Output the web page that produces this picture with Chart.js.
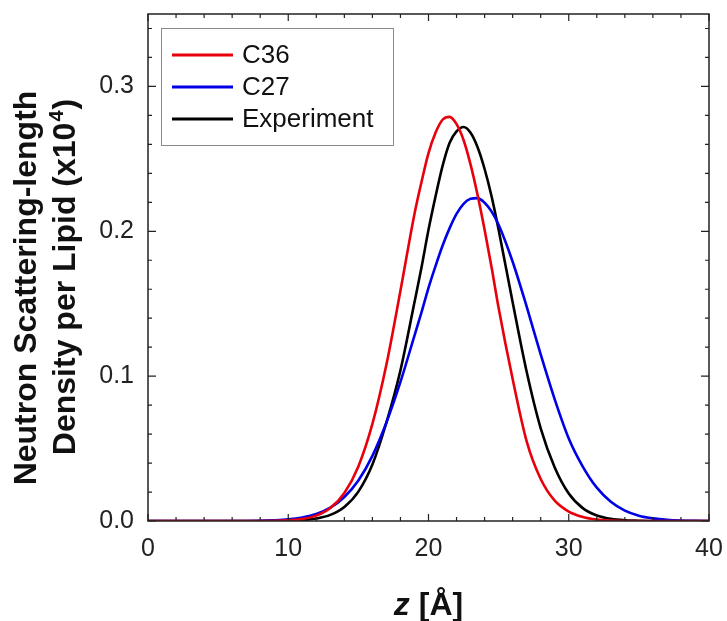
<!DOCTYPE html>
<html lang="en">
<head>
<meta charset="UTF-8">
<style>
body {
    margin: 0;
    background: #fff;
}
</style>
</head>
<body>
<canvas id="sldChart" width="727" height="621"></canvas>
<script src="https://cdn.jsdelivr.net/npm/chart.js"></script>
<script>
// z positions (Angstrom), finer steps around the peaks
const zValues = [0, 2, 4, 6, 8, 9, 10, 11, 12, 13, 14, 15, 16, 17, 18, 19, 19.5, 20, 20.5, 21, 21.5, 22, 22.5, 23, 23.5, 24, 24.5, 25, 26, 27, 28, 29, 30, 31, 32, 33, 34, 35, 36, 37, 38, 39, 40];

const c36 = [0, 0, 0, 0, 0, 0.0001, 0.0005, 0.0014, 0.0037, 0.0089, 0.0193, 0.0377, 0.067, 0.108, 0.159, 0.212, 0.234, 0.254, 0.268, 0.277, 0.279, 0.274, 0.263, 0.246, 0.225, 0.201, 0.175, 0.147, 0.098, 0.055, 0.029, 0.014, 0.0065, 0.0028, 0.001, 0.0003, 0, 0, 0, 0, 0, 0, 0];

const c27 = [0, 0, 0, 0, 0.0002, 0.0005, 0.0011, 0.0024, 0.0048, 0.0092, 0.0166, 0.028, 0.045, 0.068, 0.096, 0.128, 0.144, 0.161, 0.176, 0.190, 0.202, 0.212, 0.219, 0.2224, 0.2229, 0.2197, 0.2136, 0.2045, 0.179, 0.148, 0.115, 0.084, 0.057, 0.0376, 0.023, 0.0133, 0.0072, 0.0037, 0.0018, 0.0008, 0.0003, 0.0001, 0];

const experiment = [0, 0, 0, 0, 0, 0.0001, 0.0002, 0.0006, 0.0017, 0.0042, 0.0097, 0.0203, 0.039, 0.068, 0.104, 0.151, 0.175, 0.201, 0.224, 0.245, 0.261, 0.269, 0.272, 0.268, 0.258, 0.243, 0.224, 0.201, 0.151, 0.103, 0.064, 0.037, 0.019, 0.0089, 0.0038, 0.0015, 0.0005, 0.0002, 0, 0, 0, 0, 0];

const seriesNames = ['C36', 'C27', 'Experiment'];
const seriesColors = ['#e8000b', '#0000e6', '#000000'];

const fontFamily = '"Liberation Sans", Arial, Helvetica, sans-serif';

function toPoints(values) {
    return zValues.map((z, i) => ({ x: z, y: values[i] }));
}

// frame and inward tick marks on all four sides
const framePlugin = {
    id: 'frame',
    afterDatasetsDraw(chart) {
        const { ctx, chartArea: a, scales } = chart;
        const xs = scales.x, ys = scales.y;
        ctx.save();
        ctx.strokeStyle = '#222';
        ctx.lineWidth = 1.5;
        ctx.strokeRect(a.left, a.top, a.right - a.left, a.bottom - a.top);
        ctx.lineWidth = 1.2;
        ctx.beginPath();
        for (let v = 0; v <= 40; v += 2) {
            const px = xs.getPixelForValue(v);
            const len = v % 10 === 0 ? 7 : 4;
            ctx.moveTo(px, a.bottom); ctx.lineTo(px, a.bottom - len);
            ctx.moveTo(px, a.top); ctx.lineTo(px, a.top + len);
        }
        for (let k = 0; k <= 17; k++) {
            const py = ys.getPixelForValue(k * 0.02);
            const len = k % 5 === 0 ? 8 : 4;
            ctx.moveTo(a.left, py); ctx.lineTo(a.left + len, py);
            ctx.moveTo(a.right, py); ctx.lineTo(a.right - len, py);
        }
        ctx.stroke();
        ctx.restore();
    }
};

// boxed legend in the upper left of the plot
const legendPlugin = {
    id: 'boxLegend',
    afterDraw(chart) {
        const ctx = chart.ctx;
        ctx.save();
        ctx.strokeStyle = '#8a8a8a';
        ctx.lineWidth = 1;
        ctx.strokeRect(161.5, 28.5, 232, 117);
        ctx.font = '26px ' + fontFamily;
        ctx.textBaseline = 'middle';
        ctx.fillStyle = '#111';
        chart.data.datasets.forEach((ds, i) => {
            const y = 55 + i * 32;
            ctx.strokeStyle = ds.borderColor;
            ctx.lineWidth = 3;
            ctx.beginPath();
            ctx.moveTo(172, y);
            ctx.lineTo(233, y);
            ctx.stroke();
            ctx.fillText(ds.label, 242, y + 1);
        });
        ctx.restore();
    }
};

// axis titles: italic z on x, two-line rotated title with superscript on y
const titlePlugin = {
    id: 'axisTitles',
    afterDraw(chart) {
        const ctx = chart.ctx;
        ctx.save();
        ctx.fillStyle = '#111';
        ctx.textBaseline = 'alphabetic';
        ctx.textAlign = 'left';

        const italic = 'italic bold 32px ' + fontFamily;
        const bold = 'bold 32px ' + fontFamily;
        ctx.font = italic;
        const wz = ctx.measureText('z').width;
        ctx.font = bold;
        const wr = ctx.measureText(' [Å]').width;
        const cx = (chart.chartArea.left + chart.chartArea.right) / 2;
        let x0 = cx - (wz + wr) / 2;
        ctx.font = italic;
        ctx.fillText('z', x0, 615);
        ctx.font = bold;
        ctx.fillText(' [Å]', x0 + wz, 615);

        // line 1
        ctx.save();
        ctx.translate(36, 288);
        ctx.rotate(-Math.PI / 2);
        ctx.textAlign = 'center';
        ctx.font = bold;
        ctx.fillText('Neutron Scattering-length', 0, 0);
        ctx.restore();

        // line 2 with superscript 4
        const partA = 'Density per Lipid (x10';
        const partB = '4';
        const partC = ')';
        ctx.save();
        ctx.translate(75, 278);
        ctx.rotate(-Math.PI / 2);
        ctx.font = bold;
        const wa = ctx.measureText(partA).width;
        const wc = ctx.measureText(partC).width;
        ctx.font = 'bold 20px ' + fontFamily;
        const wb = ctx.measureText(partB).width;
        let start = -(wa + wb + wc) / 2;
        ctx.font = bold;
        ctx.fillText(partA, start, 0);
        ctx.font = 'bold 20px ' + fontFamily;
        ctx.fillText(partB, start + wa + 1, -12);
        ctx.font = bold;
        ctx.fillText(partC, start + wa + wb + 2, 0);
        ctx.restore();

        ctx.restore();
    }
};

const ctx = document.getElementById('sldChart').getContext('2d');
const sldChart = new Chart(ctx, {
    type: 'line',
    data: {
        datasets: [
            { label: seriesNames[0], data: toPoints(c36), borderColor: seriesColors[0] },
            { label: seriesNames[1], data: toPoints(c27), borderColor: seriesColors[1] },
            { label: seriesNames[2], data: toPoints(experiment), borderColor: seriesColors[2] }
        ].map(ds => Object.assign(ds, {
            borderWidth: 2.6,
            pointRadius: 0,
            fill: false,
            cubicInterpolationMode: 'monotone'
        }))
    },
    options: {
        responsive: false,
        animation: false,
        layout: {
            padding: { left: 0, right: 18, top: 0, bottom: 0 }
        },
        scales: {
            x: {
                type: 'linear',
                min: 0,
                max: 40,
                grid: { display: false, drawTicks: false },
                border: { display: false },
                ticks: {
                    stepSize: 10,
                    padding: 13,
                    color: '#222',
                    font: { family: fontFamily, size: 25 },
                    maxRotation: 0
                },
                afterFit(scale) {
                    scale.height = 100;
                    scale.paddingLeft = 0;
                    scale.paddingRight = 0;
                }
            },
            y: {
                type: 'linear',
                min: 0,
                max: 0.35,
                grid: { display: false, drawTicks: false },
                border: { display: false },
                ticks: {
                    stepSize: 0.1,
                    padding: 14,
                    color: '#222',
                    font: { family: fontFamily, size: 25 },
                    callback: (v) => v > 0.31 ? '' : v.toFixed(1)
                },
                afterFit(scale) {
                    scale.width = 148;
                    scale.paddingTop = 14;
                    scale.paddingBottom = 0;
                }
            }
        },
        plugins: {
            legend: { display: false },
            tooltip: { enabled: false }
        }
    },
    plugins: [framePlugin, legendPlugin, titlePlugin]
});
</script>
</body>
</html>
